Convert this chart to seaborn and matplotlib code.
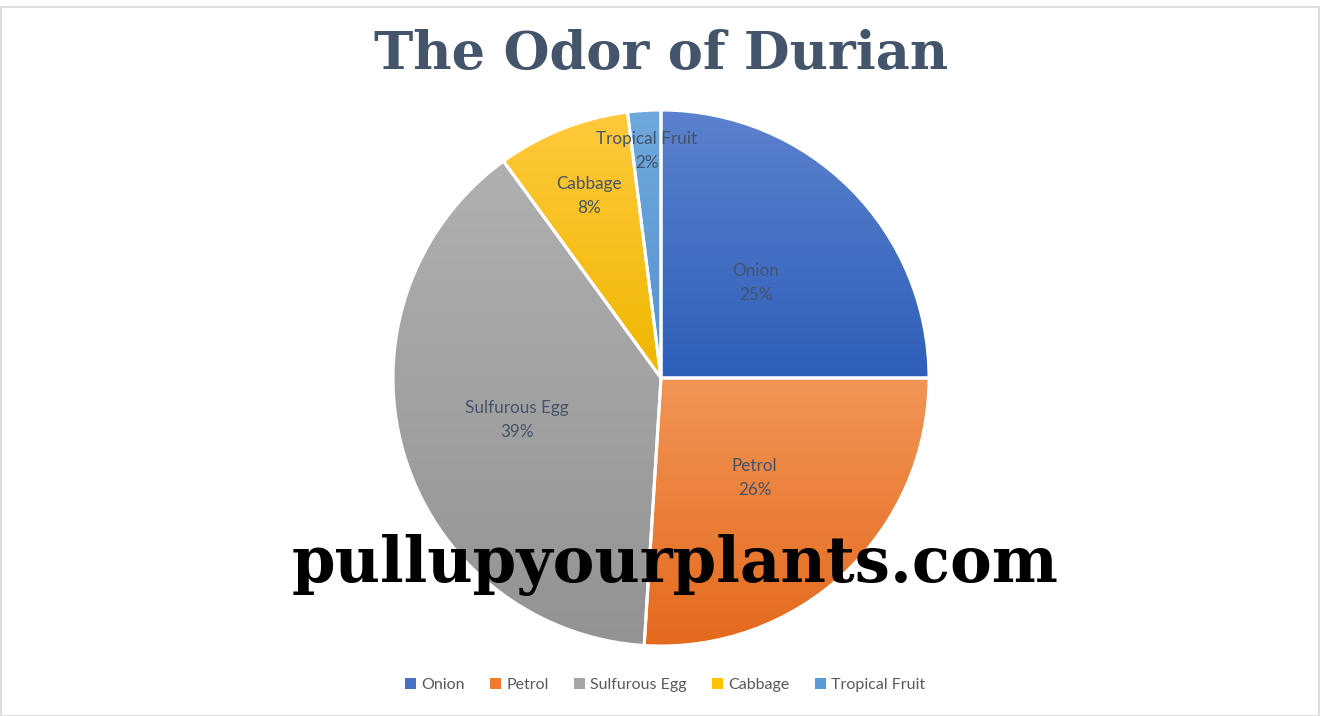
import numpy as np
import matplotlib
matplotlib.use("Agg")
import matplotlib.pyplot as plt
import seaborn as sns
from matplotlib.colors import LinearSegmentedColormap
from matplotlib.patches import Rectangle, PathPatch

# data
CATEGORIES = ["Onion", "Petrol", "Sulfurous Egg", "Cabbage", "Tropical Fruit"]
SHARES = [25, 26, 39, 8, 2]

# slice colours (top of gradient, bottom of gradient)
TOP_COLORS = ["#5B82CE", "#F29556", "#B0B0B0", "#FFC93C", "#6FA8DC"]
BOTTOM_COLORS = ["#2F5FBA", "#E4691C", "#939393", "#EFB700", "#5592D0"]
LEGEND_COLORS = ["#4472C4", "#ED7D31", "#A5A5A5", "#FFC000", "#5B9BD5"]
# how far out each label sits (fraction of radius)
LABEL_DIST = [0.5, 0.51, 0.56, 0.73, 0.85]

sns.set_theme(style="white")
plt.rcParams['font.family'] = ['Lato', 'DejaVu Sans']

W, H = 1320, 716
fig = plt.figure(figsize=(W / 100, H / 100), dpi=100)
fig.patch.set_facecolor("white")

cx, cy, r = 661, 378, 268
ax = fig.add_axes([(cx - r) / W, (H - cy - r) / H, 2 * r / W, 2 * r / H])
wedges, _ = ax.pie(SHARES, startangle=90, counterclock=False, radius=1,
                   colors=LEGEND_COLORS,
                   wedgeprops=dict(edgecolor="white", linewidth=2.2))
ax.set_xlim(-1, 1)
ax.set_ylim(-1, 1)
ax.set_aspect("equal")
ax.axis("off")

# vertical gradient inside each slice
for i, w in enumerate(wedges):
    path = w.get_path().transformed(w.get_patch_transform())
    v = path.vertices
    x0, x1 = v[:, 0].min(), v[:, 0].max()
    y0, y1 = v[:, 1].min(), v[:, 1].max()
    cmap = LinearSegmentedColormap.from_list("g", [BOTTOM_COLORS[i], TOP_COLORS[i]])
    grad = np.linspace(0, 1, 256).reshape(-1, 1)
    im = ax.imshow(grad, cmap=cmap, origin="lower", extent=[x0, x1, y0, y1],
                   aspect="auto", zorder=w.get_zorder() + 0.1)
    im.set_clip_path(w)
    ax.add_patch(PathPatch(path, facecolor="none", edgecolor="white",
                           linewidth=2.2, zorder=w.get_zorder() + 0.2))

# labels inside the slices
for i, w in enumerate(wedges):
    mid = np.deg2rad((w.theta1 + w.theta2) / 2)
    d = LABEL_DIST[i]
    ax.text(d * np.cos(mid), d * np.sin(mid), f"{CATEGORIES[i]}\n{SHARES[i]}%",
            ha="center", va="center", fontsize=12.3, color="#44546A",
            linespacing=1.6, zorder=10)

# title
fig.text(cx / W, 1 - 54 / H, "The Odor of Durian", ha="center", va="center",
         fontsize=38, fontweight="heavy", family="DejaVu Serif", color="#44546A")

# watermark
fig.text(675 / W, 1 - 565 / H, "pullupyourplants.com", ha="center", va="center",
         fontsize=45, fontweight="heavy", family="DejaVu Serif", color="black", zorder=20)

# legend
handles = [Rectangle((0, 0), 1, 1, facecolor=c, edgecolor="none") for c in LEGEND_COLORS]
fig.legend(handles, CATEGORIES, loc="center", bbox_to_anchor=(665 / W, 1 - 685 / H),
           ncol=5, frameon=False, fontsize=11.5, handlelength=0.7, handleheight=0.7,
           handletextpad=0.3, columnspacing=1.6, labelcolor="#595959")

# thin frame around the chart
fig.add_artist(Rectangle((0.5 / W, 0.5 / H), 1 - 1.5 / W, 1 - 7 / H,
                         transform=fig.transFigure, fill=False,
                         edgecolor="#D9D9D9", linewidth=1.2))

fig.savefig("out.png", dpi=100)
